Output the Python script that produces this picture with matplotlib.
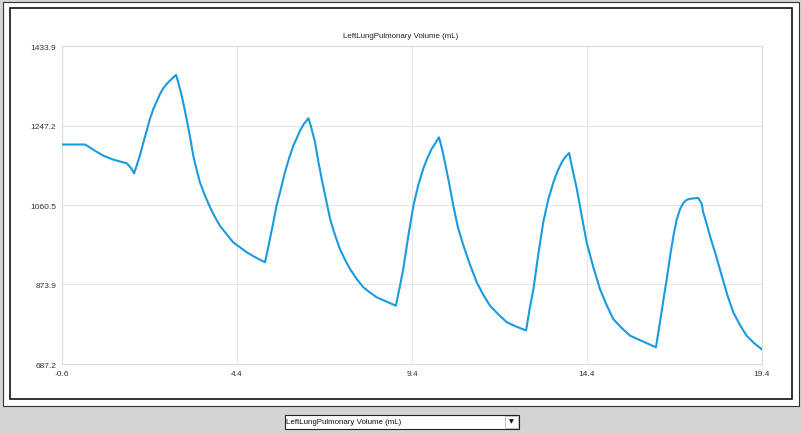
import matplotlib.pyplot as plt
from matplotlib.patches import Rectangle

plt.rcParams['font.family'] = ['Liberation Sans', 'DejaVu Sans']

title = "LeftLungPulmonary Volume (mL)"

# time (s) and left lung volume (mL)
time = [-0.6, 0.06, 0.34, 0.58, 0.87, 1.25, 1.36, 1.46,
        1.54, 1.63, 1.72, 1.82, 1.91, 2.01, 2.11, 2.2, 2.29, 2.39, 2.49, 2.59, 2.66,
        2.71, 2.77, 2.82, 2.89, 2.96, 3.06, 3.15, 3.25, 3.34, 3.49, 3.63, 3.77, 3.91,
        4.11, 4.29, 4.49, 4.68, 4.91, 5.2,
        5.27, 5.34, 5.44, 5.53, 5.66, 5.77, 5.89, 6.01, 6.11, 6.2, 6.31, 6.44,
        6.51, 6.57, 6.63, 6.71, 6.82, 6.94, 7.06, 7.2, 7.34, 7.49, 7.63, 7.82, 8.01,
        8.2, 8.39, 8.66, 8.94,
        9.05, 9.15, 9.29, 9.44, 9.58, 9.72, 9.84, 9.96, 10.07, 10.17,
        10.26, 10.34, 10.46, 10.58, 10.71, 10.87, 11.06, 11.25, 11.44, 11.63, 11.87,
        12.11, 12.37, 12.66,
        12.76, 12.87, 13.01, 13.15, 13.29, 13.44, 13.56, 13.68, 13.78, 13.89,
        13.99, 14.11, 14.25, 14.39, 14.58, 14.77, 14.96, 15.15, 15.39, 15.63, 16.0, 16.37,
        16.45, 16.53, 16.6, 16.68, 16.77, 16.87, 16.96, 17.06, 17.15, 17.25, 17.4, 17.58,
        17.68, 17.72, 17.82, 17.91, 18.09, 18.25, 18.41, 18.58, 18.77, 18.96, 19.17, 19.4]
volume = [1202.6, 1202.6, 1188.1, 1176.3, 1166.9, 1158.5, 1148.6, 1135.0,
          1154.5, 1178.0, 1206.1, 1235.0, 1262.5, 1286.0, 1304.8, 1321.2, 1334.1, 1344.7,
          1352.9, 1361.1, 1365.8,
          1351.7, 1332.9, 1317.2, 1290.7, 1262.5, 1220.2, 1176.3, 1142.7, 1113.9, 1081.7,
          1055.1, 1032.4, 1011.9, 991.3, 973.0, 960.8, 949.5, 938.4, 926.0,
          952.5, 980.7, 1020.6, 1058.9, 1100.5, 1137.3, 1170.9, 1199.8, 1217.9, 1235.0,
          1250.7, 1264.1,
          1246.0, 1227.3, 1207.8, 1168.6, 1121.6, 1074.6, 1027.7, 990.1, 957.2, 931.4,
          910.3, 886.8, 867.3, 855.1, 843.8, 834.0, 824.1,
          868.0, 910.3, 985.4, 1058.9, 1107.5, 1145.1, 1170.9, 1192.0, 1206.1, 1219.5,
          1192.0, 1160.8, 1112.2, 1058.9, 1008.9, 965.0, 919.7, 879.0, 849.2, 824.1, 803.4,
          785.1, 775.3, 765.9,
          816.3, 863.3, 945.5, 1019.9, 1072.3, 1113.9, 1140.4, 1160.8, 1173.3, 1182.6,
          1142.7, 1098.1, 1034.7, 973.0, 915.0, 863.3, 825.7, 792.9, 771.7, 753.7, 740.0,
          726.4,
          767.0, 808.6, 846.9, 886.8, 938.4, 988.5, 1025.3, 1051.2, 1065.2, 1073.0, 1075.8,
          1077.0,
          1062.9, 1043.4, 1015.9, 988.5, 940.8, 894.5, 849.2, 808.6, 778.8, 753.7, 736.5,
          721.2]

yticks = [687.2, 873.9, 1060.5, 1247.2, 1433.9]
xticks = [-0.6, 4.4, 9.4, 14.4, 19.4]

W, H = 801, 435
fig = plt.figure(figsize=(W / 100, H / 100), dpi=100)
fig.patch.set_facecolor('#d4d4d4')


def px_rect(x0, y0, x1, y1, **kw):
    # rectangle given in pixel coords measured from the top-left corner
    r = Rectangle((x0 / W, 1 - y1 / H), (x1 - x0) / W, (y1 - y0) / H,
                  transform=fig.transFigure, **kw)
    fig.add_artist(r)
    return r


px_rect(2.5, 2.5, 799, 407, facecolor='white', edgecolor='#333333', lw=0.8, zorder=0)
px_rect(9.5, 8.5, 791.5, 400, facecolor='white', edgecolor='#111111', lw=1.2, zorder=0)

ax = fig.add_axes([62 / W, 1 - 365 / H, 700 / W, 318 / H])
ax.set_facecolor('white')
ax.plot(time, volume, color='#1b9ae0', lw=1.5, solid_joinstyle='round', zorder=3)

ax.set_xlim(-0.6, 19.4)
ax.set_ylim(687.2, 1433.9)
ax.set_xticks(xticks)
ax.set_yticks(yticks)
ax.set_xticklabels([f"{v:.1f}" for v in xticks])
ax.set_yticklabels([f"{v:.1f}" for v in yticks])
ax.tick_params(length=0, labelsize=6, colors='#333333', pad=4)
ax.grid(True, color='#e6e6e6', lw=0.8)
for s in ax.spines.values():
    s.set_color('#dcdcdc')
    s.set_linewidth(0.8)

fig.text(400.5 / W, 1 - 37 / H, title, ha='center', va='center', fontsize=5.7, color='#222222')

# dropdown selector under the chart
px_rect(284.5, 415.5, 518.5, 429.5, facecolor='white', edgecolor='#222222', lw=0.8)
px_rect(505, 416.5, 517.5, 428.5, facecolor='white', edgecolor='#bbbbbb', lw=0.6)
fig.text(286.5 / W, 1 - 422.5 / H, title, ha='left', va='center', fontsize=5.7, color='#111111')
fig.text(511.3 / W, 1 - 422 / H, "▼", ha='center', va='center', fontsize=4.5,
         family='DejaVu Sans', color='#111111')

fig.savefig('out.png', dpi=100, facecolor=fig.get_facecolor())
